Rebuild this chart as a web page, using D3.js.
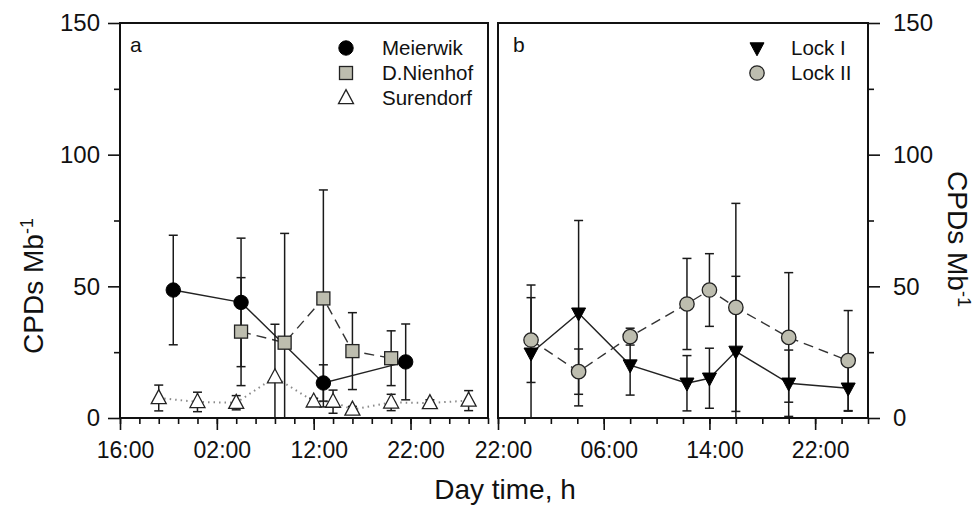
<!DOCTYPE html>
<html>
<head>
<meta charset="utf-8">
<script src="https://cdn.jsdelivr.net/npm/d3@7"></script>
<style>
  html, body { margin: 0; padding: 0; background: #fff; }
  svg { display: block; font-family: "Liberation Sans", Arial, sans-serif; }
  text { fill: #111; }
</style>
</head>
<body>
<svg id="chart" width="979" height="509"></svg>
<script>
// ---- Panel a: hours since 16:00 of the first day ----
const meierwikTime = [5.5, 12.5, 21, 29.5];
const meierwikMean = [48.6, 43.9, 13.3, 21.3];
const meierwikSd   = [20.8, 24.4, 6.9, 14.4];

const nienhofTime = [12.5, 17, 21, 24, 28];
const nienhofMean = [32.8, 28.6, 45.4, 25.4, 22.7];
const nienhofSd   = [20.5, 41.5, 41.2, 14.6, 10.4];

const surendorfTime = [4, 8, 12, 16, 20, 22, 24, 28, 32, 36];
const surendorfMean = [7.6, 6.1, 5.8, 15.5, 6.3, 6.2, 3.2, 5.9, 5.7, 6.6];
const surendorfSd   = [4.9, 3.7, 2.7, 20.1, 1.2, 4.4, 1.2, 3.1, 1.2, 3.8];

// ---- Panel b: hours since 22:00 ----
const lockTime  = [2.5, 6.1, 10, 14.3, 16, 18, 22, 26.5];
const lock1Mean = [24.6, 39.8, 20.1, 13.2, 15.1, 25.3, 13.2, 11.3];
const lock1Sd   = [25.9, 35.2, 11.4, 10.5, 11.4, 28.5, 12.6, 8.7];
const lock2Mean = [29.6, 17.6, 30.9, 43.3, 48.6, 42.0, 30.6, 21.8];
const lock2Sd   = [16.1, 8.6, 3.2, 17.3, 13.8, 39.5, 24.6, 19.0];

// ---- Tick labels ----
const xTickHoursA = [0, 10, 20, 30];
const xTickLabelsA = ["16:00", "02:00", "12:00", "22:00"];
const xTickHoursB = [0, 8, 16, 24];
const xTickLabelsB = ["22:00", "06:00", "14:00", "22:00"];
const yTicks = [0, 50, 100, 150];
const yMinorTicks = [25, 75, 125];

const svg = d3.select("#chart");
const grayFill = "#bdbdaf";

const y = d3.scaleLinear().domain([0, 150]).range([418, 23]);
const xA = d3.scaleLinear().domain([0, 38]).range([120, 488]);
const xB = d3.scaleLinear().domain([0, 28]).range([498, 868]);

// marker shapes
function triUp(w, h) { return `M0,${-h * 0.6}L${w / 2},${h * 0.4}L${-w / 2},${h * 0.4}Z`; }
function triDown(w, h) { return `M0,${h * 0.6}L${w / 2},${-h * 0.4}L${-w / 2},${-h * 0.4}Z`; }

function drawMarker(g, kind, cx, cy) {
  if (kind === "circle") {
    g.append("circle").attr("cx", cx).attr("cy", cy).attr("r", 7.2)
      .attr("fill", "#000").attr("stroke", "#000");
  } else if (kind === "circleGray") {
    g.append("circle").attr("cx", cx).attr("cy", cy).attr("r", 7.2)
      .attr("fill", grayFill).attr("stroke", "#222").attr("stroke-width", 1.3);
  } else if (kind === "square") {
    g.append("rect").attr("x", cx - 6.5).attr("y", cy - 6.5).attr("width", 13).attr("height", 13)
      .attr("fill", grayFill).attr("stroke", "#222").attr("stroke-width", 1.3);
  } else if (kind === "triUp") {
    g.append("path").attr("transform", `translate(${cx},${cy})`).attr("d", triUp(15, 14))
      .attr("fill", "#fff").attr("stroke", "#222").attr("stroke-width", 1.3);
  } else if (kind === "triDown") {
    g.append("path").attr("transform", `translate(${cx},${cy})`).attr("d", triDown(14, 13))
      .attr("fill", "#000").attr("stroke", "#000").attr("stroke-width", 1);
  }
}

function drawSeries(x, time, mean, sd, opt) {
  const pts = time.map((t, i) => ({ t, m: mean[i], s: sd[i] }));
  const g = svg.append("g");
  const line = d3.line().x(d => x(d.t)).y(d => y(d.m));
  g.append("path").datum(pts).attr("d", line)
    .attr("fill", "none").attr("stroke", opt.lineColor).attr("stroke-width", opt.lineWidth)
    .attr("stroke-dasharray", opt.dash || null);
  return { g, pts };
}

function drawBars(x, time, mean, sd) {
  const g = svg.append("g").attr("stroke", "#1a1a1a").attr("stroke-width", 1.5);
  time.forEach((t, i) => {
    const cx = x(t);
    const top = y(mean[i] + sd[i]);
    const bot = y(Math.max(0, mean[i] - sd[i]));
    g.append("line").attr("x1", cx).attr("x2", cx).attr("y1", top).attr("y2", bot);
    g.append("line").attr("x1", cx - 4.5).attr("x2", cx + 4.5).attr("y1", top).attr("y2", top);
    g.append("line").attr("x1", cx - 4.5).attr("x2", cx + 4.5).attr("y1", bot).attr("y2", bot);
  });
}

function drawMarkers(x, time, mean, kind) {
  const g = svg.append("g");
  time.forEach((t, i) => drawMarker(g, kind, x(t), y(mean[i])));
}

// ---- connecting lines ----
drawSeries(xA, surendorfTime, surendorfMean, surendorfSd, { lineColor: "#8a8a8a", lineWidth: 2, dash: "1.5,4" });
drawSeries(xA, meierwikTime, meierwikMean, meierwikSd, { lineColor: "#222", lineWidth: 1.4 });
drawSeries(xA, nienhofTime, nienhofMean, nienhofSd, { lineColor: "#333", lineWidth: 1.4, dash: "10,6" });
drawSeries(xB, lockTime, lock1Mean, lock1Sd, { lineColor: "#222", lineWidth: 1.4 });
drawSeries(xB, lockTime, lock2Mean, lock2Sd, { lineColor: "#333", lineWidth: 1.4, dash: "10,6" });

// ---- error bars ----
drawBars(xA, surendorfTime, surendorfMean, surendorfSd);
drawBars(xA, meierwikTime, meierwikMean, meierwikSd);
drawBars(xA, nienhofTime, nienhofMean, nienhofSd);
drawBars(xB, lockTime, lock1Mean, lock1Sd);
drawBars(xB, lockTime, lock2Mean, lock2Sd);

// ---- markers ----
drawMarkers(xA, surendorfTime, surendorfMean, "triUp");
drawMarkers(xA, meierwikTime, meierwikMean, "circle");
drawMarkers(xA, nienhofTime, nienhofMean, "square");
drawMarkers(xB, lockTime, lock1Mean, "triDown");
drawMarkers(xB, lockTime, lock2Mean, "circleGray");

// ---- panel frames ----
[[xA], [xB]].forEach(([x]) => {
  svg.append("rect")
    .attr("x", x.range()[0]).attr("y", y(150))
    .attr("width", x.range()[1] - x.range()[0]).attr("height", y(0) - y(150))
    .attr("fill", "none").attr("stroke", "#111").attr("stroke-width", 2);
});

// ---- axes ----
function styleAxis(g, fontSize) {
  g.select(".domain").remove();
  g.selectAll(".tick line").attr("stroke", "#111").attr("stroke-width", 1.6);
  g.selectAll(".tick text").attr("fill", "#111").style("font-size", fontSize + "px")
    .style("font-family", '"Liberation Sans", Arial, sans-serif');
}

function xAxes(x, hours, labels, minorMax) {
  const gMinor = svg.append("g").attr("transform", `translate(0,${y(0)})`)
    .call(d3.axisBottom(x).tickValues(d3.range(0, minorMax + 1, 2)).tickSize(6).tickFormat(""));
  styleAxis(gMinor, 23);
  const gMajor = svg.append("g").attr("transform", `translate(0,${y(0)})`)
    .call(d3.axisBottom(x).tickValues(hours).tickSize(12)
      .tickFormat(d => labels[hours.indexOf(d)]));
  styleAxis(gMajor, 23);
  gMajor.selectAll(".tick text").attr("y", 24).attr("dy", "0.71em").attr("dx", 5);
}
xAxes(xA, xTickHoursA, xTickLabelsA, 38);
xAxes(xB, xTickHoursB, xTickLabelsB, 28);

// left y axis
const gyLMinor = svg.append("g").attr("transform", `translate(${xA(0)},0)`)
  .call(d3.axisLeft(y).tickValues(yMinorTicks).tickSize(6).tickFormat(""));
styleAxis(gyLMinor, 24);
const gyL = svg.append("g").attr("transform", `translate(${xA(0)},0)`)
  .call(d3.axisLeft(y).tickValues(yTicks).tickSize(12).tickPadding(8));
styleAxis(gyL, 24);

// right y axis
const gyRMinor = svg.append("g").attr("transform", `translate(${xB(28)},0)`)
  .call(d3.axisRight(y).tickValues(yMinorTicks).tickSize(6).tickFormat(""));
styleAxis(gyRMinor, 24);
const gyR = svg.append("g").attr("transform", `translate(${xB(28)},0)`)
  .call(d3.axisRight(y).tickValues(yTicks).tickSize(12).tickPadding(13));
styleAxis(gyR, 24);

// ---- axis titles ----
const leftTitle = svg.append("text")
  .attr("transform", `translate(43,${286}) rotate(-90)`)
  .attr("text-anchor", "middle").style("font-size", "28px");
leftTitle.append("tspan").text("CPDs Mb");
leftTitle.append("tspan").attr("dy", "-0.55em").style("font-size", "18px").text("-1");

const rightTitle = svg.append("text")
  .attr("transform", `translate(948,${239}) rotate(90)`)
  .attr("text-anchor", "middle").style("font-size", "28px");
rightTitle.append("tspan").text("CPDs Mb");
rightTitle.append("tspan").attr("dy", "-0.55em").style("font-size", "18px").text("-1");

svg.append("text").attr("x", 505).attr("y", 499).attr("text-anchor", "middle")
  .style("font-size", "28px").text("Day time, h");

// ---- panel letters ----
svg.append("text").attr("x", 130).attr("y", 52).style("font-size", "21px").text("a");
svg.append("text").attr("x", 513).attr("y", 52).style("font-size", "21px").text("b");

// ---- legends ----
const legendA = [
  { name: "Meierwik", kind: "circle" },
  { name: "D.Nienhof", kind: "square" },
  { name: "Surendorf", kind: "triUp" }
];
const legendB = [
  { name: "Lock I", kind: "triDown" },
  { name: "Lock II", kind: "circleGray" }
];
function drawLegend(items, mx, tx, y0) {
  const g = svg.append("g");
  items.forEach((it, i) => {
    const cy = y0 + i * 25;
    drawMarker(g, it.kind, mx, cy);
    g.append("text").attr("x", tx).attr("y", cy + 7).style("font-size", "20.5px").text(it.name);
  });
}
drawLegend(legendA, 346, 382, 48);
drawLegend(legendB, 757, 791, 48);
</script>
</body>
</html>
